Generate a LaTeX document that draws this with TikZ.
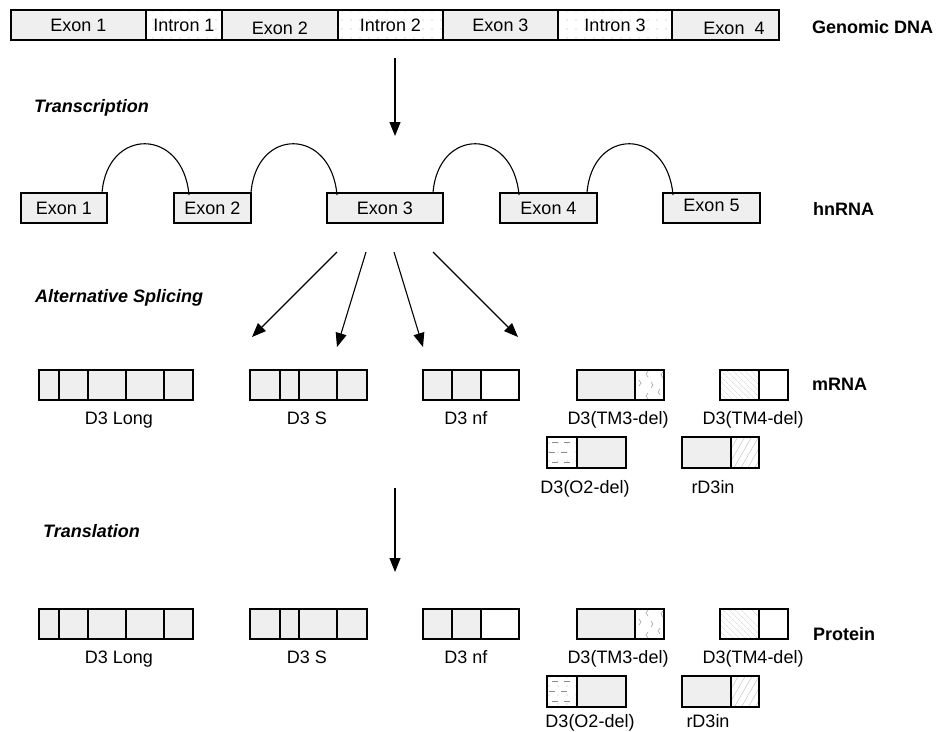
\documentclass[tikz,border=0pt]{standalone}
\usepackage{fontspec}
\setmainfont{Liberation Sans}
\usetikzlibrary{arrows.meta,patterns.meta}
\definecolor{exfill}{RGB}{239,239,239}

\tikzset{
  seg/.style={draw=black, line width=1.1pt, inner sep=0pt, outer sep=0pt,
              font=\fontsize{18}{20}\selectfont},
  ex/.style={fill=exfill},
  wh/.style={fill=white},
  dotpat/.style={pattern={Dots[distance=9pt,radius=0.7pt]}, pattern color=black!30},
  bshatch/.style={pattern={Lines[angle=-45,distance=4pt,line width=0.5pt]}, pattern color=black!18},
  fshatch/.style={pattern={Lines[angle=60,distance=6pt,line width=0.5pt]}, pattern color=black!22},
  lowertext/.style={text height=18.9pt, text depth=0pt},
  raisetext/.style={text height=6.9pt, text depth=0pt},
  lab/.style={font=\fontsize{18}{20}\selectfont, inner sep=0pt, anchor=base},
  rlab/.style={font=\fontsize{18}{20}\selectfont\bfseries, inner sep=0pt, anchor=base west},
  llab/.style={font=\fontsize{18}{20}\selectfont\bfseries\itshape, inner sep=0pt, anchor=base west},
  arr/.style={line width=1.1pt, -{Triangle[width=11pt,length=14pt]}},
  arcline/.style={line width=1.1pt},
  chevst/.style={draw=black!35, line width=0.6pt},
  dashst/.style={draw=black!45, line width=0.8pt}
}

% name, x1, x2, y1, y2, text, style
\newcommand\boxseg[7]{%
  \node[seg,#7,minimum width={((#3)-(#2))*1pt},minimum height={((#5)-(#4))*1pt}]
    (#1) at ({((#2)+(#3))/2},{((#4)+(#5))/2}) {#6};}

% x, y, direction (1 = >, -1 = <)
\newcommand\chv[3]{\draw[chevst] ({#1-2*(#3)},{#2-3}) -- (#1,{#2}) -- ({#1-2*(#3)},{#2+3});}

% offset, prefix, second-label baseline, O2 label x, rD3in label x
\newcommand\isorow[5]{%
  \boxseg{#2L1}{39}{59}{370+#1}{400+#1}{}{ex}
  \boxseg{#2L2}{59}{88}{370+#1}{400+#1}{}{ex}
  \boxseg{#2L3}{88}{126}{370+#1}{400+#1}{}{ex}
  \boxseg{#2L4}{126}{164}{370+#1}{400+#1}{}{ex}
  \boxseg{#2L5}{164}{193}{370+#1}{400+#1}{}{ex}
  \boxseg{#2S1}{250}{280}{370+#1}{400+#1}{}{ex}
  \boxseg{#2S2}{280}{299}{370+#1}{400+#1}{}{ex}
  \boxseg{#2S3}{299}{337}{370+#1}{400+#1}{}{ex}
  \boxseg{#2S4}{337}{367}{370+#1}{400+#1}{}{ex}
  \boxseg{#2N1}{423}{452}{370+#1}{400+#1}{}{ex}
  \boxseg{#2N2}{452}{481}{370+#1}{400+#1}{}{ex}
  \boxseg{#2N3}{481}{519}{370+#1}{400+#1}{}{wh}
  \boxseg{#2T1}{577}{635}{370+#1}{400+#1}{}{ex}
  \boxseg{#2T2}{635}{664}{370+#1}{400+#1}{}{wh}
  \boxseg{#2U1}{720}{759}{370+#1}{400+#1}{}{bshatch}
  \boxseg{#2U2}{759}{788}{370+#1}{400+#1}{}{wh}
  \boxseg{#2O1}{547}{577}{437+#1}{468+#1}{}{dotpat}
  \boxseg{#2O2}{577}{626}{437+#1}{468+#1}{}{ex}
  \boxseg{#2R1}{682}{731}{437+#1}{468+#1}{}{ex}
  \boxseg{#2R2}{731}{759}{437+#1}{468+#1}{}{fshatch}
  % chevrons in TM3 deleted part
  \chv{646}{374+#1}{-1}\chv{661}{375+#1}{-1}\chv{641}{383+#1}{1}
  \chv{653}{385+#1}{1}\chv{658}{392+#1}{-1}\chv{646}{396+#1}{-1}
  % dashes in O2 deleted part
  \draw[dashst] (552,{442+#1}) -- (558,{442+#1}) (564,{442+#1}) -- (570,{442+#1});
  \draw[dashst] (549,{452+#1}) -- (555,{452+#1}) (561,{452+#1}) -- (567,{452+#1});
  \draw[dashst] (552,{462+#1}) -- (558,{462+#1}) (564,{462+#1}) -- (570,{462+#1});
  % labels
  \node[lab] (#2lL) at (119,{424+#1}) {D3 Long};
  \node[lab] (#2lS) at (307,{424+#1}) {D3 S};
  \node[lab] (#2lN) at (466,{424+#1}) {D3 nf};
  \node[lab] (#2lT) at (618,{424+#1}) {D3(TM3-del)};
  \node[lab] (#2lU) at (753,{424+#1}) {D3(TM4-del)};
  \node[lab] (#2lO) at (#4,{#3}) {D3(O2-del)};
  \node[lab] (#2lR) at (#5,{#3}) {rD3in};
}

\begin{document}
\begin{tikzpicture}[x=1pt,y=-1pt]
\useasboundingbox (0,0) rectangle (936,731);
\fill[white] (0,0) rectangle (936,731);

% ---------- Genomic DNA ----------
\boxseg{g1}{11}{146}{10}{40}{Exon 1}{ex}
\boxseg{g2}{146}{222}{10}{40}{Intron 1}{dotpat}
\boxseg{g3}{222}{338}{10}{40}{Exon 2}{ex,lowertext}
\boxseg{g4}{338}{443}{10}{40}{Intron 2}{dotpat}
\boxseg{g5}{443}{558}{10}{40}{Exon 3}{ex}
\boxseg{g6}{558}{672}{10}{40}{Intron 3}{dotpat}
\boxseg{g7}{672}{779}{10}{40}{\hspace*{17pt}Exon\ \ 4}{ex,lowertext}
\node[rlab] (lgen) at (812,33) {Genomic DNA};

% transcription arrow
\coordinate (tA) at (395,58);
\coordinate (tB) at (395,136);
\draw[arr] (tA) -- (tB);
\node[llab] (ltrans) at (34,112) {Transcription};

% ---------- hnRNA ----------
\boxseg{h1}{21}{107}{193}{223}{Exon 1}{ex}
\boxseg{h2}{174}{251}{193}{223}{Exon 2}{ex}
\boxseg{h3}{327}{443}{193}{223}{Exon 3}{ex}
\boxseg{h4}{500}{597}{193}{223}{Exon 4}{ex}
\boxseg{h5}{663}{760}{193}{223}{Exon 5}{ex,raisetext}
\node[rlab] (lhn) at (813,215) {hnRNA};

\draw[arcline] ([xshift=-5pt]h1.north east) .. controls +(5,-66) and +(-6,-68) .. ([xshift=15pt,yshift=-2pt]h2.north west);
\draw[arcline] (h2.north east) .. controls +(5,-66) and +(-6,-68) .. ([xshift=10pt,yshift=-2pt]h3.north west);
\draw[arcline] ([xshift=-10pt]h3.north east) .. controls +(5,-66) and +(-6,-68) .. ([xshift=19pt,yshift=-2pt]h4.north west);
\draw[arcline] ([xshift=-10pt]h4.north east) .. controls +(5,-66) and +(-6,-68) .. ([xshift=10pt,yshift=-2pt]h5.north west);

% alternative splicing arrows
\node[llab] (lalt) at (35,302) {Alternative Splicing};
\coordinate (s1a) at (337,252); \coordinate (s1b) at (252,337);
\coordinate (s2a) at (366,252); \coordinate (s2b) at (337,347);
\coordinate (s3a) at (394,252); \coordinate (s3b) at (423,347);
\coordinate (s4a) at (433,252); \coordinate (s4b) at (518,337);
\draw[arr] (s1a) -- (s1b);
\draw[arr] (s2a) -- (s2b);
\draw[arr] (s3a) -- (s3b);
\draw[arr] (s4a) -- (s4b);

% ---------- mRNA ----------
\isorow{0}{m}{493}{585}{713}
\node[rlab] (lmrna) at (812,390) {mRNA};

% translation arrow
\node[llab] (ltransl) at (43,537) {Translation};
\coordinate (pA) at (395,488);
\coordinate (pB) at (395,572);
\draw[arr] (pA) -- (pB);

% ---------- Protein ----------
\isorow{239}{p}{727}{590}{708}
\node[rlab] (lprot) at (813,640) {Protein};
\end{tikzpicture}
\end{document}
